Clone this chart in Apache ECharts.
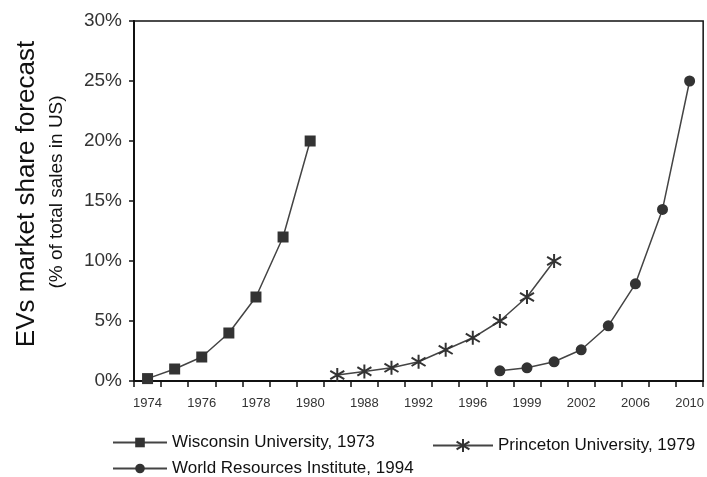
<!DOCTYPE html>
<html>
<head>
<meta charset="utf-8">
<script src="https://cdn.jsdelivr.net/npm/echarts@6/dist/echarts.min.js"></script>
<style>
  html, body { margin: 0; padding: 0; background: #fff; }
  #chart-container { width: 707px; height: 477px; }
</style>
</head>
<body>
<div id="chart-container"></div>
<script>
// x categories (only every other one is labelled)
var years = ["1974", "1975", "1976", "1977", "1978", "1979", "1980", "1986", "1988", "1990", "1992",
  "1994", "1996", "1998", "1999", "2000", "2002", "2004", "2006", "2008", "2010"];

var wisconsinYears = ["1974", "1975", "1976", "1977", "1978", "1979", "1980"];
var wisconsin = [0.2, 1, 2, 4, 7, 12, 20];

var princetonYears = ["1986", "1988", "1990", "1992", "1994", "1996", "1998", "1999", "2000"];
var princeton = [0.5, 0.8, 1.1, 1.6, 2.6, 3.6, 5, 7, 10];

var wriYears = ["1998", "1999", "2000", "2002", "2004", "2006", "2008", "2010"];
var wri = [0.85, 1.1, 1.6, 2.6, 4.6, 8.1, 14.3, 25];

var dom = document.getElementById("chart-container");
var myChart = echarts.init(dom, null, { renderer: "canvas" });

var font = "Liberation Sans, Arial, sans-serif";
var lineColor = "#444";
var markColor = "#333";
var star = "path://M0,-10 L0,10 M-9,-6 L9,6 M-9,6 L9,-6";

function pairs(xs, ys) {
  return xs.map(function (x, i) {
    return [x, ys[i]];
  });
}

var option = {
  animation: false,
  textStyle: { fontFamily: font },
  grid: {
    left: 134,
    right: 1,
    top: 21,
    bottom: 96,
    show: true,
    borderColor: "#111",
    borderWidth: 1.5,
    backgroundColor: "transparent"
  },
  xAxis: {
    type: "category",
    data: years,
    boundaryGap: true,
    axisLine: { lineStyle: { color: "#111", width: 2 } },
    axisTick: { show: true, interval: 0, length: 6, lineStyle: { color: "#111", width: 1.5 } },
    axisLabel: { interval: 1, color: "#333", fontSize: 13, margin: 16, fontFamily: font },
    splitLine: { show: false }
  },
  yAxis: {
    type: "value",
    min: 0,
    max: 30,
    interval: 5,
    axisLine: { show: true, lineStyle: { color: "#111", width: 2 } },
    axisTick: { show: true, length: 5, lineStyle: { color: "#111", width: 1.5 } },
    axisLabel: { formatter: "{value}%", color: "#333", fontSize: 19, margin: 12, fontFamily: font },
    splitLine: { show: false }
  },
  legend: [
    {
      data: ["Wisconsin University, 1973"],
      left: 107, top: 429,
      itemWidth: 54, itemHeight: 12,
      textStyle: { fontSize: 17, color: "#111", fontFamily: font }
    },
    {
      data: ["Princeton University, 1979"],
      left: 427, top: 432,
      itemWidth: 60, itemHeight: 16,
      textStyle: { fontSize: 17, color: "#111", fontFamily: font }
    },
    {
      data: ["World Resources Institute, 1994"],
      left: 107, top: 455,
      itemWidth: 54, itemHeight: 12,
      textStyle: { fontSize: 17, color: "#111", fontFamily: font }
    }
  ],
  graphic: [
    {
      type: "text",
      x: 27, y: 194,
      rotation: Math.PI / 2,
      style: {
        text: "EVs market share forecast",
        font: "26px " + font,
        fill: "#111",
        align: "center",
        verticalAlign: "middle"
      }
    },
    {
      type: "text",
      x: 57, y: 192,
      rotation: Math.PI / 2,
      style: {
        text: "(% of total sales in US)",
        font: "19px " + font,
        fill: "#111",
        align: "center",
        verticalAlign: "middle"
      }
    }
  ],
  series: [
    {
      name: "Wisconsin University, 1973",
      type: "line",
      data: pairs(wisconsinYears, wisconsin),
      symbol: "rect",
      symbolSize: 11,
      showAllSymbol: true,
      lineStyle: { color: lineColor, width: 1.5 },
      itemStyle: { color: markColor }
    },
    {
      name: "Princeton University, 1979",
      type: "line",
      data: pairs(princetonYears, princeton),
      symbol: star,
      symbolSize: 14,
      showAllSymbol: true,
      lineStyle: { color: lineColor, width: 1.5 },
      itemStyle: { color: markColor, borderColor: markColor, borderWidth: 2 }
    },
    {
      name: "World Resources Institute, 1994",
      type: "line",
      data: pairs(wriYears, wri),
      symbol: "circle",
      symbolSize: 11,
      showAllSymbol: true,
      lineStyle: { color: lineColor, width: 1.5 },
      itemStyle: { color: markColor }
    }
  ]
};

myChart.setOption(option);

window.addEventListener("resize", myChart.resize);
</script>
</body>
</html>
